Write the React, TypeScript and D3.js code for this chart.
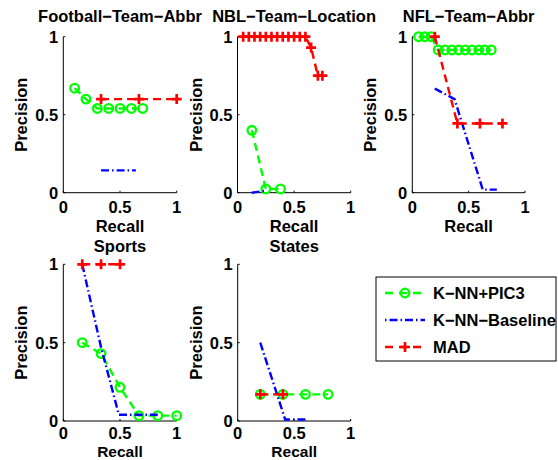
import React from "react";
import * as d3 from "d3";

type Pt = [number, number];

const panelTitles = ["Football−Team−Abbr", "NBL−Team−Location", "NFL−Team−Abbr", "Sports", "States"];
const seriesNames = ["K−NN+PIC3", "K−NN−Baseline", "MAD"];
const tickValues = [0, 0.5, 1];
const tickLabels = ["0", "0.5", "1"];

// Football-Team-Abbr
const footballPic3: Pt[] = [[0.1, 0.67], [0.2, 0.6], [0.3, 0.54], [0.4, 0.54], [0.5, 0.54], [0.6, 0.54], [0.7, 0.54]];
const footballBase: Pt[] = [[0.333, 0.143], [0.64, 0.143]];
const footballMad: Pt[] = [[0.333, 0.6], [0.667, 0.6], [1.0, 0.6]];

// NBL-Team-Location
const nblPic3: Pt[] = [[0.127, 0.4], [0.25, 0.024], [0.38, 0.024]];
const nblBase: Pt[] = [[0.125, 0.0], [0.25, 0.012]];
const nblMad: Pt[] = [[0.05, 1], [0.1, 1], [0.15, 1], [0.2, 1], [0.25, 1], [0.3, 1], [0.35, 1], [0.4, 1], [0.45, 1], [0.5, 1], [0.55, 1], [0.6, 1], [0.65, 0.93], [0.71, 0.75], [0.75, 0.75]];

// NFL-Team-Abbr
const nflPic3: Pt[] = [[0.056, 1], [0.111, 1], [0.167, 1], [0.23, 0.915], [0.29, 0.915], [0.35, 0.915], [0.41, 0.915], [0.47, 0.915], [0.53, 0.915], [0.59, 0.915], [0.645, 0.915], [0.70, 0.915]];
const nflBase: Pt[] = [[0.2, 0.667], [0.375, 0.6], [0.625, 0.02], [0.75, 0.02]];
const nflMad: Pt[] = [[0.2, 1], [0.4, 0.444], [0.6, 0.444], [0.8, 0.444]];

// Sports
const sportsPic3: Pt[] = [[0.167, 0.5], [0.333, 0.43], [0.5, 0.215], [0.667, 0.034], [0.833, 0.034], [1.0, 0.034]];
const sportsBase: Pt[] = [[0.167, 1], [0.333, 0.47], [0.49, 0.04], [0.833, 0.04]];
const sportsMad: Pt[] = [[0.167, 1], [0.333, 1], [0.5, 1]];

// States
const statesPic3: Pt[] = [[0.2, 0.17], [0.4, 0.17], [0.6, 0.17], [0.8, 0.17]];
const statesBase: Pt[] = [[0.2, 0.5], [0.42, 0.01], [0.6, 0.01]];
const statesMad: Pt[] = [[0.2, 0.17], [0.4, 0.17]];

const panelData = [
  [footballPic3, footballBase, footballMad],
  [nblPic3, nblBase, nblMad],
  [nflPic3, nflBase, nflMad],
  [sportsPic3, sportsBase, sportsMad],
  [statesPic3, statesBase, statesMad],
];

const layout = [
  { x0: 63.3, x1: 176.7, y0: 192.7, y1: 36.7 },
  { x0: 237.5, x1: 350.7, y0: 192.7, y1: 36.7 },
  { x0: 412.3, x1: 525, y0: 192.7, y1: 36.7 },
  { x0: 63.3, x1: 176.7, y0: 421, y1: 264.3 },
  { x0: 237.7, x1: 350.7, y0: 421, y1: 264.3 },
];

const COLORS = ["#00ff00", "#0000ff", "#ff0000"];
const DASH = ["8,5", "8,3,1.5,3", "8,5"];
const FONT = "'Liberation Sans', Arial, Helvetica, sans-serif";
const FS = 16.5;

function Marker({ kind, x, y, color }: { kind: number; x: number; y: number; color: string }) {
  if (kind === 0) return <circle cx={x} cy={y} r={4.3} fill="none" stroke={color} strokeWidth={2.3} />;
  if (kind === 2)
    return (
      <path d={`M${x - 5},${y}H${x + 5}M${x},${y - 5}V${y + 5}`} stroke={color} strokeWidth={2.7} fill="none" />
    );
  return null;
}

function Panel({ idx }: { idx: number }) {
  const L = layout[idx];
  const x = d3.scaleLinear().domain([0, 1]).range([L.x0, L.x1]);
  const y = d3.scaleLinear().domain([0, 1]).range([L.y0, L.y1]);
  const line = d3.line<Pt>().x((d) => x(d[0])).y((d) => y(d[1]));
  const cx = (L.x0 + L.x1) / 2;
  const cy = (L.y0 + L.y1) / 2;
  const isTop = idx < 3;
  return (
    <g>
      <path d={`M${L.x0},${L.y1}V${L.y0}H${L.x1}`} stroke="#000" strokeWidth={1} fill="none" />
      {tickValues.map((t, i) => (
        <g key={"t" + i}>
          <line x1={x(t)} x2={x(t)} y1={L.y0} y2={L.y0 - 2} stroke="#000" />
          <line x1={L.x0} x2={L.x0 + 2} y1={y(t)} y2={y(t)} stroke="#000" />
          <text x={x(t)} y={L.y0 + (isTop ? 20 : 18)} textAnchor="middle" fontSize={FS} fontWeight="bold" fontFamily={FONT}>
            {tickLabels[i]}
          </text>
          <text x={L.x0 - 5} y={y(t) + 6} textAnchor="end" fontSize={FS} fontWeight="bold" fontFamily={FONT}>
            {tickLabels[i]}
          </text>
        </g>
      ))}
      <text
        x={cx}
        y={isTop ? 231.5 : 456.5}
        textAnchor="middle"
        fontSize={isTop ? FS : 15.5}
        fontWeight="bold"
        fontFamily={FONT}
      >
        Recall
      </text>
      <text
        transform={`translate(${L.x0 - 36},${cy}) rotate(-90)`}
        textAnchor="middle"
        fontSize={FS}
        fontWeight="bold"
        fontFamily={FONT}
      >
        Precision
      </text>
      <text x={cx} y={isTop ? 22 : 251.5} textAnchor="middle" fontSize={FS} fontWeight="bold" fontFamily={FONT}>
        {panelTitles[idx]}
      </text>
      {panelData[idx].map((pts, s) => (
        <g key={"s" + s}>
          <path d={line(pts) || ""} stroke={COLORS[s]} strokeWidth={2.4} strokeDasharray={DASH[s]} fill="none" />
          {pts.map((p, k) => (
            <Marker key={k} kind={s} x={x(p[0])} y={y(p[1])} color={COLORS[s]} />
          ))}
        </g>
      ))}
    </g>
  );
}

function Legend() {
  const bx = 376, by = 277, bw = 180, bh = 84;
  const rows = [293, 320, 347];
  return (
    <g>
      <rect x={bx} y={by} width={bw} height={bh} fill="#fff" stroke="#000" strokeWidth={1} />
      {seriesNames.map((n, i) => (
        <g key={n}>
          <line x1={385} x2={425} y1={rows[i]} y2={rows[i]} stroke={COLORS[i]} strokeWidth={2.4} strokeDasharray={i === 1 ? "1.5,3,8,3" : "8,6"} />
          <Marker kind={i} x={405} y={rows[i]} color={COLORS[i]} />
          <text x={433} y={rows[i] + 6} fontSize={FS} fontWeight="bold" fontFamily={FONT}>
            {n}
          </text>
        </g>
      ))}
    </g>
  );
}

export default function App() {
  return (
    <svg
      width={558}
      height={460}
      style={{ position: "absolute", left: 0, top: 0, background: "#fff" }}
    >
      <rect width={558} height={460} fill="#fff" />
      {[0, 1, 2, 3, 4].map((i) => (
        <Panel key={i} idx={i} />
      ))}
      <Legend />
    </svg>
  );
}
